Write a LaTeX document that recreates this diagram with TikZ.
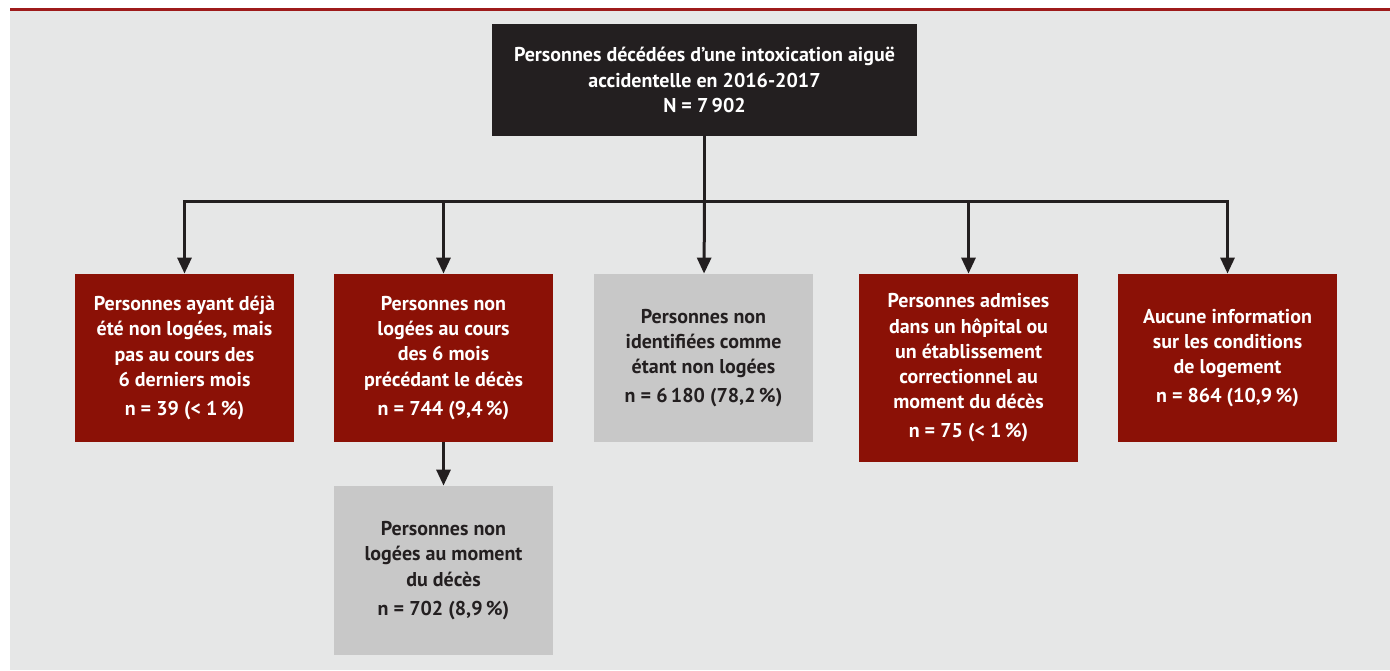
\documentclass[tikz,border=0pt]{standalone}
\usepackage{fontspec}
\setmainfont{PT Sans}
\usetikzlibrary{arrows.meta}
\definecolor{bggray}{HTML}{E6E7E7}
\definecolor{boxred}{HTML}{8B1106}
\definecolor{boxdark}{HTML}{231F20}
\definecolor{boxgray}{HTML}{C8C8C8}
\definecolor{linered}{HTML}{9E1B1B}
\tikzset{
  box/.style={rectangle, minimum width=109.5pt, minimum height=84pt, inner sep=0pt,
    align=center, font=\bfseries\fontsize{10}{12.6}\selectfont},
  redbox/.style={box, fill=boxred, text=white},
  graybox/.style={box, fill=boxgray, text=boxdark},
  topbox/.style={box, fill=boxdark, text=white, minimum width=212.5pt, minimum height=56pt},
  arr/.style={-{Triangle[width=7pt,length=8pt]}, line width=1.5pt, draw=boxdark}
}
\begin{document}
\begin{tikzpicture}[x=0.5pt,y=-0.5pt]
\useasboundingbox (0,0) rectangle (1390,670);
\fill [bggray] (10,10) rectangle (1390,670);
\draw [linered, line width=1.5pt] (10,9) -- (1390,9);

\node [topbox] (root) at (704.5,80) {Personnes décédées d’une intoxication aiguë\\accidentelle en 2016-2017\\N = 7\,902};
\node [redbox] (b1) at (184.5,358) {Personnes ayant déjà\\été non logées, mais\\pas au cours des\\6 derniers mois\\[2pt]n = 39 (< 1\,\%)};
\node [redbox] (b2) at (443.5,358) {Personnes non\\logées au cours\\des 6 mois\\précédant le décès\\[2pt]n = 744 (9,4\,\%)};
\node [graybox] (b3) at (703.5,358) {Personnes non\\identifiées comme\\étant non logées\\[2pt]n = 6\,180 (78,2\,\%)};
\node [redbox, minimum height=94pt] (b4) at (968.5,368) {Personnes admises\\dans un hôpital ou\\un établissement\\correctionnel au\\moment du décès\\[2pt]n = 75 (< 1\,\%)};
\node [redbox] (b5) at (1227.5,358) {Aucune information\\sur les conditions\\de logement\\[2pt]n = 864 (10,9\,\%)};
\node [graybox, minimum height=84.5pt] (b6) at (443.5,570.5) {Personnes non\\logées au moment\\du décès\\[2pt]n = 702 (8,9\,\%)};

\coordinate (split) at (704.5,201);
\draw [line width=1.5pt, boxdark] (root) -- (split);
\draw [arr] (split) -| (b1);
\draw [arr] (split) -| (b2);
\draw [arr] (split) -- (b3);
\draw [arr] (split) -| (b4);
\draw [arr] (split) -| (b5);
\draw [arr] (b2) -- (b6);
\end{tikzpicture}
\end{document}
